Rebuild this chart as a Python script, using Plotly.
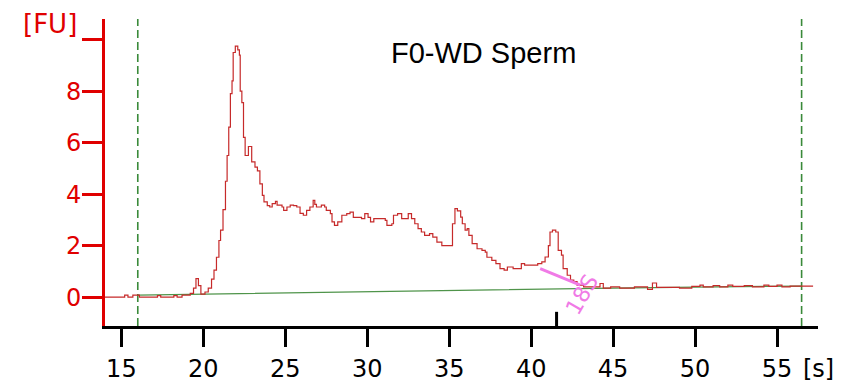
import plotly.graph_objects as go

# Electropherogram trace (time in s, fluorescence in FU)
time_s = [14.0, 15.2, 15.4, 15.7, 16.1, 17.2, 17.4, 18.2, 18.4, 18.7, 19.2, 19.4, 19.55, 19.7, 19.85,
          20.1, 20.3, 20.5, 20.65, 20.8, 20.95, 21.05, 21.2, 21.35, 21.45, 21.55, 21.65, 21.75, 21.82,
          21.95, 22.1, 22.2, 22.25, 22.35, 22.45, 22.55, 22.75, 22.95, 23.15, 23.3, 23.45, 23.6, 23.7,
          23.9, 24.05, 24.2, 24.4, 24.5, 24.8, 24.9, 25.1, 25.3, 25.5, 25.7, 25.9, 26.1, 26.3, 26.5,
          26.7, 26.8, 26.9, 27.2, 27.4, 27.5, 27.75, 27.85, 28.0, 28.2, 28.45, 28.75, 28.95, 29.15,
          29.65, 29.85, 30.05, 30.2, 30.4, 31.1, 31.2, 31.5, 31.6, 31.85, 32.1, 32.45, 32.5, 32.7,
          32.9, 33.1, 33.3, 33.5, 33.8, 34.0, 34.25, 34.55, 35.15, 35.2, 35.35, 35.5, 35.7, 35.8,
          35.97, 36.1, 36.2, 36.4, 36.7, 37.0, 37.2, 37.3, 37.6, 37.85, 38.1, 38.35, 38.55, 38.9,
          39.4, 39.6, 40.4, 40.65, 40.85, 41.05, 41.15, 41.3, 41.5, 41.65, 41.85, 41.95, 42.2, 42.4,
          42.6, 42.8, 43.2, 44.2, 44.4, 44.85, 45.4, 46.3, 47.1, 47.4, 47.65, 49.05, 49.8, 50.3,
          50.5, 51.1, 51.5, 52.0, 52.3, 53.0, 53.5, 54.2, 54.5, 55.0, 55.3, 55.8, 57.2]
fu = [0.0, 0.08, 0.0, 0.08, 0.0, 0.06, 0.0, 0.06, 0.0, 0.08, 0.15, 0.35, 0.72, 0.45, 0.12,
      0.2, 0.35, 0.7, 1.05, 1.55, 2.2, 2.6, 3.4, 4.5, 5.5, 6.6, 7.9, 8.4, 9.5,
      9.75, 9.6, 9.4, 8.0, 7.55, 6.2, 5.5, 5.85, 5.25, 5.05, 4.9, 4.4, 3.95, 3.7,
      3.55, 3.5, 3.63, 3.72, 3.57, 3.5, 3.37, 3.5, 3.57, 3.55, 3.5, 3.25, 3.18, 3.37, 3.5,
      3.76, 3.6, 3.5, 3.57, 3.5, 3.37, 3.24, 2.92, 2.79, 2.92, 3.18, 3.24, 3.3, 3.1,
      3.05, 3.24, 3.1, 2.92, 3.05, 2.98, 2.79, 2.85, 3.18, 3.24, 3.05, 3.05, 3.24, 3.05,
      2.85, 2.66, 2.53, 2.4, 2.47, 2.33, 2.14, 2.0, 2.0, 2.85, 3.44, 3.35, 3.11, 2.85,
      2.6, 2.66, 2.4, 2.08, 1.88, 1.82, 1.75, 1.55, 1.43, 1.3, 1.11, 1.05, 1.17, 1.11,
      1.3, 1.24, 1.3, 1.37, 1.56, 2.0, 2.53, 2.6, 2.53, 1.82, 1.63, 1.11, 0.85, 0.66,
      0.6, 0.47, 0.4, 0.53, 0.35, 0.4, 0.35, 0.4, 0.3, 0.55, 0.38, 0.35, 0.42, 0.47,
      0.4, 0.45, 0.4, 0.47, 0.42, 0.45, 0.4, 0.47, 0.42, 0.47, 0.4, 0.43, 0.43]

# Baseline
baseline_t = [16.0, 20.0, 25.0, 30.0, 35.0, 40.0, 45.0, 50.0, 56.5]
baseline_fu = [0.08, 0.12, 0.17, 0.22, 0.26, 0.30, 0.35, 0.39, 0.43]

# Markers / annotations
window_lines = [16.0, 56.5]
ladder_marker = 41.55
peak_18s_line_t = [40.55, 43.0]
peak_18s_line_fu = [1.11, 0.47]
peak_18s_label = "18S"
peak_18s_pos = (43.1, 0.1)

x_ticks = [15, 20, 25, 30, 35, 40, 45, 50, 55]
y_ticks = [0, 2, 4, 6, 8, 10]
y_ticktext = ["0", "2", "4", "6", "8", ""]

X_RANGE = [14.0, 57.5]
Y_RANGE = [-1.12, 10.8]

fig = go.Figure()

for xv in window_lines:
    fig.add_trace(go.Scatter(x=[xv, xv], y=Y_RANGE, mode="lines",
                             line=dict(color="#3a8a3a", width=1.6, dash="8px,4px"),
                             hoverinfo="skip", showlegend=False))

fig.add_trace(go.Scatter(x=baseline_t, y=baseline_fu, mode="lines",
                         line=dict(color="#4f944a", width=1.2), showlegend=False))

fig.add_trace(go.Scatter(x=time_s, y=fu, mode="lines", line_shape="hv",
                         line=dict(color="#c62a2a", width=1.2), showlegend=False))

fig.add_trace(go.Scatter(x=peak_18s_line_t, y=peak_18s_line_fu, mode="lines",
                         line=dict(color="#f07ae6", width=3), showlegend=False))

fig.add_trace(go.Scatter(x=[ladder_marker, ladder_marker], y=[-0.57, Y_RANGE[0]], mode="lines",
                         line=dict(color="black", width=3), showlegend=False))

fig.add_annotation(x=peak_18s_pos[0], y=peak_18s_pos[1], text=peak_18s_label, showarrow=False,
                   textangle=-60, xanchor="center", yanchor="middle",
                   font=dict(family="DejaVu Sans", size=22, color="#f07ae6"))

fig.add_annotation(x=0.531, y=0.888, xref="paper", yref="paper", text="F0-WD Sperm",
                   showarrow=False, xanchor="center", yanchor="middle",
                   font=dict(family="Liberation Sans", size=29, color="black"))

fig.add_annotation(x=-0.077, y=0.985, xref="paper", yref="paper", text="[FU]",
                   showarrow=False, xanchor="center", yanchor="middle",
                   font=dict(family="DejaVu Sans", size=26, color="#e00000"))

fig.add_annotation(x=0.976, y=-0.088, xref="paper", yref="paper", text="[s]", showarrow=False,
                   xanchor="left", yanchor="top",
                   font=dict(family="DejaVu Sans", size=24, color="black"))

fig.update_xaxes(range=X_RANGE, tickvals=x_ticks, showgrid=False, zeroline=False,
                 showline=True, linecolor="black", linewidth=3, automargin=False,
                 ticks="outside", ticklen=18, tickwidth=3, tickcolor="black",
                 ticklabelstandoff=1,
                 tickfont=dict(family="DejaVu Sans", size=24, color="black"))
fig.update_yaxes(range=Y_RANGE, tickvals=y_ticks, ticktext=y_ticktext, showgrid=False,
                 zeroline=False, showline=True, linecolor="#e00000", linewidth=3,
                 automargin=False,
                 ticks="outside", ticklen=20, tickwidth=3, tickcolor="#e00000",
                 ticklabelstandoff=-4,
                 tickfont=dict(family="DejaVu Sans", size=24, color="#e00000"))

fig.update_layout(width=844, height=389, margin=dict(l=105, r=26, t=19, b=63, autoexpand=False),
                  plot_bgcolor="white", paper_bgcolor="white", showlegend=False)

fig.write_html("out.html")
